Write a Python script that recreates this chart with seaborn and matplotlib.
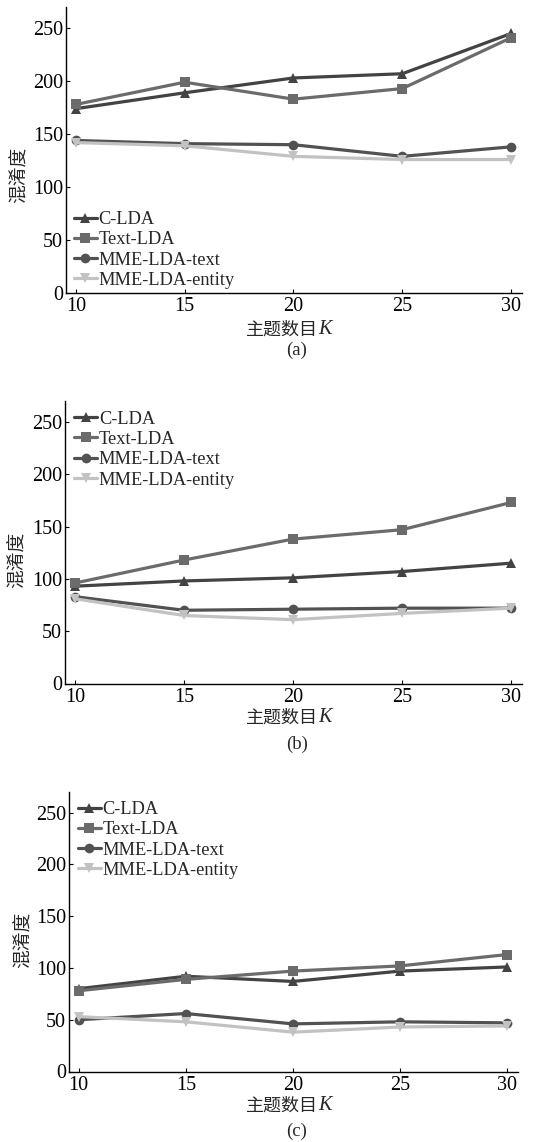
import matplotlib
matplotlib.use("Agg")
import matplotlib.pyplot as plt
import seaborn as sns
import pandas as pd

sns.set_theme(style="white")
plt.rcParams['font.family'] = ['Liberation Serif', 'Noto Sans CJK SC', 'DejaVu Sans']
plt.rcParams['axes.unicode_minus'] = False

K = [10, 15, 20, 25, 30]
models = ["C-LDA", "Text-LDA", "MME-LDA-text", "MME-LDA-entity"]

a_clda = [174, 189, 203, 207, 245]
a_text = [178, 199, 183, 193, 241]
a_mme_text = [144, 141, 140, 129, 138]
a_mme_entity = [142, 139, 129, 126, 126]

b_clda = [93, 98, 101, 107, 115]
b_text = [96, 118, 138, 147, 173]
b_mme_text = [83, 70, 71, 72, 72]
b_mme_entity = [81, 65, 61, 67, 72]

c_clda = [80, 92, 87, 97, 101]
c_text = [78, 89, 97, 102, 113]
c_mme_text = [50, 56, 46, 48, 47]
c_mme_entity = [53, 48, 38, 43, 44]

yticks = [0, 50, 100, 150, 200, 250]
panel_labels = ["(a)", "(b)", "(c)"]
ylabel = "混淆度"
xlabel_cn = "主题数目"
xlabel_var = "K"

palette = {"C-LDA": "#434343", "Text-LDA": "#6b6b6b",
           "MME-LDA-text": "#525252", "MME-LDA-entity": "#c2c2c2"}
markers = {"C-LDA": "^", "Text-LDA": "s", "MME-LDA-text": "o", "MME-LDA-entity": "v"}

W, H = 533, 1142
fig = plt.figure(figsize=(W / 100, H / 100), dpi=100)

panels = [
    dict(data=[a_clda, a_text, a_mme_text, a_mme_entity],
         box=(66, 7, 522, 293), leg=(0.0175, 0.287), ylab=(19, 175), xlab=330, plab=350),
    dict(data=[b_clda, b_text, b_mme_text, b_mme_entity],
         box=(65, 401, 522, 683.5), leg=(0.02, 0.966), ylab=(17, 560), xlab=718, plab=744),
    dict(data=[c_clda, c_text, c_mme_text, c_mme_entity],
         box=(69, 792, 518, 1071.5), leg=(0.02, 0.968), ylab=(23, 940), xlab=1106, plab=1131),
]

for p, plab in zip(panels, panel_labels):
    l, t, r, b = p["box"]
    ax = fig.add_axes([l / W, 1 - b / H, (r - l) / W, (b - t) / H])
    rows = []
    for m, vals in zip(models, p["data"]):
        for k, v in zip(K, vals):
            rows.append({"K": k, "val": v, "model": m})
    df = pd.DataFrame(rows)
    sns.lineplot(data=df, x="K", y="val", hue="model", style="model",
                 hue_order=models, style_order=models,
                 palette=palette, markers=markers, dashes=False,
                 linewidth=2.3, markersize=7, mew=0, ax=ax)
    ax.set_xlim(9.55, 30.5)
    ax.set_ylim(0, 270)
    ax.set_xticks(K)
    ax.set_yticks(yticks)
    ax.set_xlabel("")
    ax.set_ylabel("")
    for s in ["top", "right"]:
        ax.spines[s].set_visible(False)
    for s in ["left", "bottom"]:
        ax.spines[s].set_color("black")
        ax.spines[s].set_linewidth(1.0)
    ax.tick_params(direction="in", length=3, width=0.8, labelsize=14.5,
                   colors="black", left=True, bottom=True)
    ax.tick_params(axis="y", pad=2)
    ax.tick_params(axis="x", pad=3)
    leg = ax.legend(loc="upper left", bbox_to_anchor=p["leg"], frameon=False,
                    fontsize=13.2, borderpad=0, borderaxespad=0, labelspacing=0.18,
                    handlelength=1.25, handletextpad=0.1)
    for h in leg.get_lines():
        h.set_linewidth(2.3)
    yx, yy = p["ylab"]
    fig.text(yx / W, 1 - yy / H, ylabel, rotation=90, ha="center", va="center",
             fontsize=13.5, family=["Noto Sans CJK SC"])
    fig.text(318 / W, 1 - p["xlab"] / H, xlabel_cn, ha="right", va="center",
             fontsize=13, family=["Noto Sans CJK SC"])
    fig.text(318 / W, 1 - p["xlab"] / H, xlabel_var, ha="left", va="center",
             fontsize=14.5, style="italic", family=["Liberation Serif"])
    fig.text(297 / W, 1 - p["plab"] / H, plab, ha="center", va="center",
             fontsize=13.5, family=["Liberation Serif"])

fig.savefig("out.png", dpi=100)
